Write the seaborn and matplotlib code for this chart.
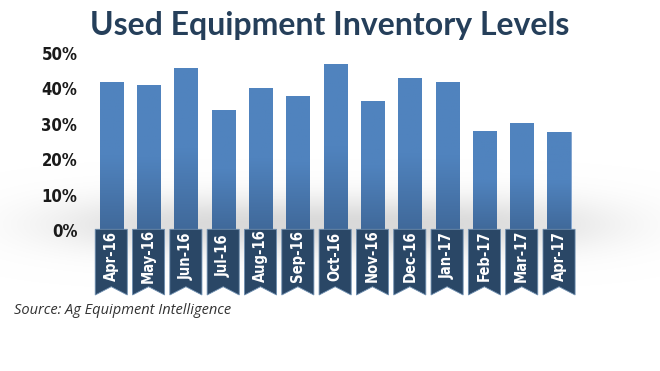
import numpy as np
import pandas as pd
import matplotlib
matplotlib.use("Agg")
import matplotlib.pyplot as plt
from matplotlib.patches import Polygon
from matplotlib.colors import LinearSegmentedColormap
import seaborn as sns

# Chart data
months = ["Apr-16", "May-16", "Jun-16", "Jul-16", "Aug-16", "Sep-16", "Oct-16",
          "Nov-16", "Dec-16", "Jan-17", "Feb-17", "Mar-17", "Apr-17"]
inventory_pct = [41.6, 40.8, 45.7, 33.9, 40.1, 37.9, 46.8,
                 36.3, 42.9, 41.6, 27.9, 30.2, 27.5]
y_ticks = [0, 10, 20, 30, 40, 50]

df = pd.DataFrame({"month": months, "pct": inventory_pct})

sns.set_theme(style="white")
narrow = ["DejaVu Sans"]
plt.rcParams["font.family"] = ["DejaVu Sans"]

W, H = 660, 371
fig = plt.figure(figsize=(W / 100, H / 100), dpi=100)

# soft grey shadow behind the bars
bg = fig.add_axes([0, 0, 1, 1], zorder=0)
gx, gy = np.meshgrid(np.arange(W), np.arange(H))
shadow = np.exp(-(((gx - 330) / 275.0) ** 4) - (((gy - 224) / 28.0) ** 2))
bg.imshow(shadow, cmap=LinearSegmentedColormap.from_list("sh", ["#ffffff", "#d9d9d9"]),
          vmin=0, vmax=1, extent=[0, W, H, 0], aspect="auto")
bg.set_xlim(0, W)
bg.set_ylim(H, 0)
bg.axis("off")

left_px, right_px = 92.6, 577.7
top_px, zero_px = 52.7, 230.0
ax = fig.add_axes([left_px / W, (H - zero_px) / H, (right_px - left_px) / W,
                   (zero_px - top_px) / H], zorder=1)
ax.patch.set_alpha(0)

sns.barplot(data=df, x="month", y="pct", color="#4f81bd", width=0.62,
            edgecolor="#7fa3d0", linewidth=0.6, ax=ax)

# vertical gradient on each bar
grad = np.linspace(1, 0, 100).reshape(-1, 1)
bar_cmap = LinearSegmentedColormap.from_list("bar", ["#40699a", "#5083be", "#5083be"])
for bar in ax.patches:
    x0, w, h = bar.get_x(), bar.get_width(), bar.get_height()
    im = ax.imshow(grad, cmap=bar_cmap, extent=[x0, x0 + w, 0, h],
                   aspect="auto", zorder=2, vmin=0, vmax=1)
    im.set_clip_path(bar)

ax.set_xlim(-0.5, len(months) - 0.5)
ax.set_ylim(0, 50)
ax.set_yticks(y_ticks)
ax.set_yticklabels([f"{t}%" for t in y_ticks], family=narrow, fontweight="bold",
                   fontstretch="condensed", fontsize=12, color="#1a1a1a")
ax.tick_params(axis="y", length=0, pad=11)
ax.set_xticks([])
ax.set_xlabel("")
ax.set_ylabel("")
for s in ax.spines.values():
    s.set_visible(False)

# ribbon labels under each bar
unit = 35.46 / 10.0  # px per percentage point
rw = 0.43
r_top = 0.2
r_bot = -(295 - zero_px) / unit
r_notch = -(286.7 - zero_px) / unit
for i, m in enumerate(months):
    poly = Polygon([(i - rw, r_top), (i + rw, r_top), (i + rw, r_bot),
                    (i, r_notch), (i - rw, r_bot)], closed=True,
                   facecolor="#2a4766", edgecolor="#6f8fb0", linewidth=0.6,
                   clip_on=False, zorder=3)
    ax.add_patch(poly)
    ax.text(i, -(256 - zero_px) / unit, m, rotation=90, ha="center", va="center",
            color="white", fontsize=10.5, fontweight="bold", family=narrow,
            fontstretch="condensed", clip_on=False, zorder=4)

fig.text(0.5, 1 - 25 / H, "Used Equipment Inventory Levels", ha="center", va="center",
         fontsize=23, fontweight="bold", family=["Lato", "DejaVu Sans"], color="#253f5a")
fig.text(14 / W, 1 - 310 / H, "Source: Ag Equipment Intelligence", ha="left",
         va="center", fontsize=10.5, style="italic", family=["Open Sans", "DejaVu Sans"],
         color="#333333")

fig.savefig("out.png", dpi=100)
